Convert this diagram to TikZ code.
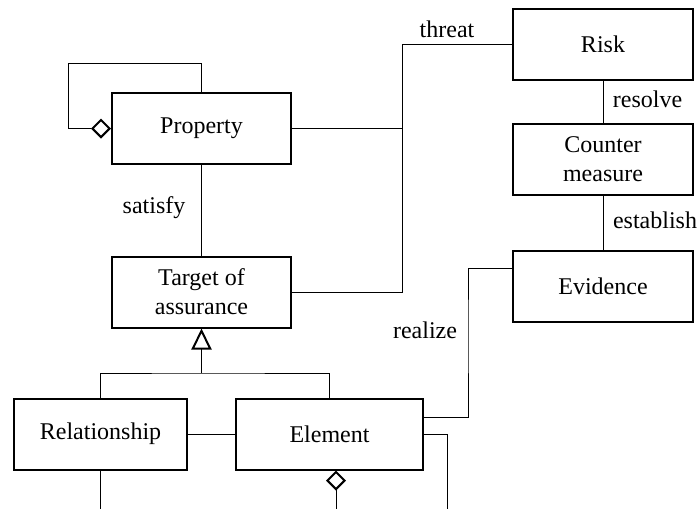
\documentclass[tikz,border=0pt]{standalone}
\usepackage{fontspec}
\setmainfont{Liberation Serif}
\usetikzlibrary{arrows.meta}
\usetikzlibrary{calc}

\tikzset{
    cls/.style={draw, line width=1pt, minimum height=35.5pt, inner sep=0pt, align=center, font=\fontsize{12}{14.5}\selectfont},
    lbl/.style={inner sep=0pt, font=\fontsize{12}{14.5}\selectfont},
    link/.style={line width=0.5pt},
    agg/.style={link, -{Diamond[open, length=10pt, width=10pt, line width=1pt]}},
    gen/.style={link, -{Triangle[open, length=10.5pt, width=10pt, line width=1pt]}}
}

\begin{document}
\begin{tikzpicture}[x=0.5pt, y=-0.5pt]
    \useasboundingbox (0,0) rectangle (697,509);

    \node[cls, minimum width=89.5pt] (prop) at (201.5,128.5) {Property};
    \node[cls, minimum width=89.5pt] (toa) at (201.5,292) {Target of\\assurance};
    \node[cls, minimum width=90pt] (risk) at (603,44.5) {Risk};
    \node[cls, minimum width=90pt] (cm) at (603,159) {Counter\\measure};
    \node[cls, minimum width=90pt] (evid) at (603,286) {Evidence};
    \node[cls, minimum width=86.5pt] (rel) at (100.5,434) {Relationship};
    \node[cls, minimum width=93.5pt] (elem) at (329.5,434) {Element};

    % associations
    \coordinate (thr) at (402,128.5);
    \draw[link] (prop.east) -- (thr) |- (risk.west);
    \draw[link] (toa.east) -| (thr);
    \draw[link] (prop.south) -- (toa.north);
    \draw[link] (risk.south) -- (cm.north);
    \draw[link] (cm.south) -- (evid.north);
    \coordinate (rlz) at (468,330);
    \draw[link] ([yshift=9pt]evid.west) -| (rlz) |- ([yshift=8.5pt]elem.east);
    \draw[link] (rel.east) -- (elem.west);
    \coordinate (edown) at (447,509);
    \draw[link] (elem.east) -| (edown);
    \coordinate (rdown) at (102,509);
    \draw[link] (rel.south) -- (rel.south |- rdown);

    % aggregation
    \coordinate (loop) at (68,63);
    \draw[agg] (prop.north) |- (loop) |- (prop.west);
    \coordinate (part) at (336,509);
    \draw[agg] (part) -- (part |- elem.south);

    % generalization
    \coordinate (gj) at (201.5,373);
    \draw[gen] (gj) -- (toa.south);
    \draw[link] (rel.north) |- (gj) -| (elem.north);

    \node[lbl] (lthreat) at (447,29) {threat};
    \node[lbl] (lresolve) at (647.5,99) {resolve};
    \node[lbl] (lestab) at (655,220) {establish};
    \node[lbl] (lrealize) at (425,330) {realize};
    \node[lbl] (lsatisfy) at (154,208) {satisfy};
\end{tikzpicture}
\end{document}
